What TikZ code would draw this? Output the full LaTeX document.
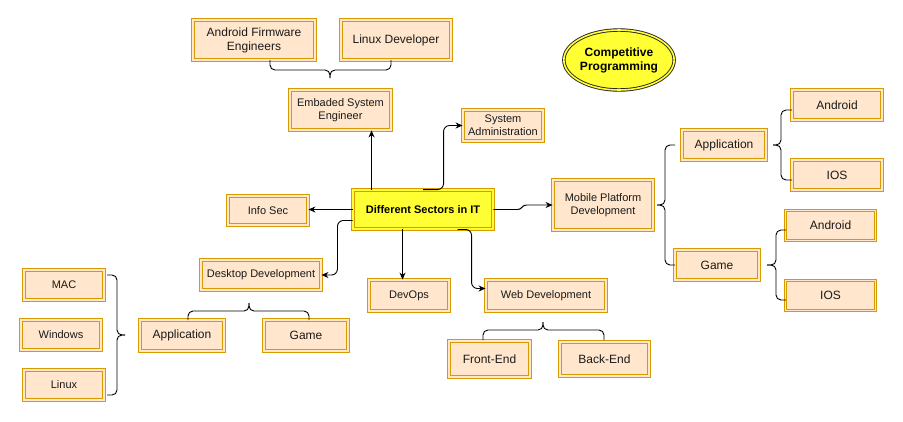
\documentclass[tikz,border=0pt]{standalone}
\usepackage{fontspec}
\setmainfont{Liberation Sans}
\usetikzlibrary{arrows.meta,shapes.geometric}
\definecolor{boxfill}{HTML}{FFE6CC}
\definecolor{boxline}{HTML}{D79B00}
\definecolor{hiyellow}{HTML}{FFFF33}
\definecolor{txt}{HTML}{1A1A1A}
\begin{document}
\begin{tikzpicture}[x=1pt,y=-1pt,
  box/.style={rectangle, fill=boxfill, draw=boxline, line width=0.9pt, double=boxfill, double distance=1.4pt,
    align=center, text=txt, inner sep=1pt, font=\fontsize{12}{14}\selectfont},
  smallbox/.style={box, font=\fontsize{11}{13}\selectfont},
  hubbox/.style={box, fill=hiyellow, double=hiyellow, font=\fontsize{11}{13}\selectfont\bfseries, text=black},
  arr/.style={draw=black, line width=0.9pt, -{Stealth[length=7pt,width=6pt]}},
  brace/.style={draw=black, line width=0.9pt, rounded corners=5pt}
]
\useasboundingbox (0,0) rectangle (903,421);

% top group
\node[box, minimum width=122pt, minimum height=40pt] (afe) at (254,40) {Android Firmware\\Engineers};
\node[box, minimum width=110pt, minimum height=40pt] (ld) at (396,40) {Linux Developer};
\node[smallbox, minimum width=101pt, minimum height=40pt] (ese) at (340.5,110) {Embaded System\\Engineer};
\node[smallbox, minimum width=80pt, minimum height=31pt] (sa) at (503,125.5) {System\\Administration};

% hub
\node[hubbox, minimum width=140pt, minimum height=39pt] (hub) at (423,209.5) {Different Sectors in IT};
\node[smallbox, minimum width=80pt, minimum height=29pt] (infosec) at (268,210.5) {Info Sec};

% competitive programming
\node[ellipse, fill=hiyellow, draw=black!85, line width=0.9pt, double=hiyellow, double distance=1.6pt,
  minimum width=100pt, minimum height=60pt, inner sep=0pt, align=center,
  font=\fontsize{12}{14}\selectfont\bfseries] (cp) at (619,60) {Competitive\\Programming};

% mobile
\node[smallbox, minimum width=100pt, minimum height=50pt] (mob) at (603,205) {Mobile Platform\\Development};
\node[box, minimum width=84pt, minimum height=30pt] (mapp) at (724,145) {Application};
\node[box, minimum width=84pt, minimum height=30pt] (mgame) at (717,265) {Game};
\node[box, minimum width=90pt, minimum height=30pt] (aand) at (837,105) {Android};
\node[box, minimum width=90pt, minimum height=30pt] (aios) at (837,175) {IOS};
\node[box, minimum width=90pt, minimum height=30pt] (gand) at (830.5,225.5) {Android};
\node[box, minimum width=90pt, minimum height=30pt] (gios) at (830.5,295.5) {IOS};

% desktop
\node[smallbox, minimum width=120pt, minimum height=30pt] (desk) at (261,275) {Desktop Development};
\node[box, minimum width=84pt, minimum height=31pt] (dapp) at (182,335.5) {Application};
\node[box, minimum width=84pt, minimum height=31pt] (dgame) at (306,335.5) {Game};
\node[smallbox, minimum width=80pt, minimum height=30pt] (mac) at (64,285) {MAC};
\node[smallbox, minimum width=80pt, minimum height=30pt] (win) at (61,335) {Windows};
\node[smallbox, minimum width=80pt, minimum height=30pt] (lin) at (64,385) {Linux};

% devops / web
\node[smallbox, minimum width=80pt, minimum height=31pt] (devops) at (409,295.5) {DevOps};
\node[smallbox, minimum width=120pt, minimum height=31pt] (web) at (546,295.5) {Web Development};
\node[box, minimum width=81pt, minimum height=36pt] (fe) at (489.5,359) {Front-End};
\node[box, minimum width=89pt, minimum height=34pt] (be) at (604.5,359) {Back-End};

% arrows from hub
\draw[arr] ([xshift=19pt]hub.north west) -- ([xshift=19pt]hub.north west |- ese.south);
\draw[arr, rounded corners=6pt] (hub.north) -| ([xshift=-19pt]sa.west) -- (sa.west);
\draw[arr] (hub.west) -- (hub.west -| infosec.east);
\draw[arr, rounded corners=3pt] (hub.east) -- ([xshift=27pt]hub.east) -- ([xshift=-29pt]mob.west) -- (mob.west);
\draw[arr, rounded corners=6pt] ([yshift=9pt]hub.south west) -| ([xshift=16pt]desk.east) -- (desk.east);
\draw[arr] ([xshift=50pt]hub.south west) -- ([xshift=50pt]hub.south west |- devops.north);
\draw[arr, rounded corners=6pt] ([xshift=105pt]hub.south west) -| ([xshift=-14pt,yshift=7pt]web.west) -- ([yshift=7pt]web.west);

% braces
% under Android Firmware / Linux Developer
\draw[brace] (270,60) -- (270,70) -- (330,70) -- (330,78);
\draw[brace] (391,60) -- (391,70) -- (330,70) -- (330,78);
% under Desktop Development
\draw[brace] (188,320) -- (188,311) -- (249,311) -- (249,303);
\draw[brace] (309,320) -- (309,311) -- (249,311) -- (249,303);
% under Web Development
\draw[brace] (483,340) -- (483,330) -- (543,330) -- (543,322);
\draw[brace] (604,340) -- (604,330) -- (543,330) -- (543,322);
% right of Mobile
\draw[brace] (675,145) -- (665,145) -- (665,205) -- (657,205);
\draw[brace] (675,265) -- (665,265) -- (665,205) -- (657,205);
% right of mobile Application
\draw[brace] (792,110) -- (781,110) -- (781,145) -- (773,145);
\draw[brace] (792,180) -- (781,180) -- (781,145) -- (773,145);
% right of mobile Game
\draw[brace] (786,230) -- (776,230) -- (776,265) -- (767,265);
\draw[brace] (786,300) -- (776,300) -- (776,265) -- (767,265);
% right of MAC / Windows / Linux
\draw[brace] (107,275) -- (117,275) -- (117,335) -- (125,335);
\draw[brace] (107,395) -- (117,395) -- (117,335) -- (125,335);
\end{tikzpicture}
\end{document}
